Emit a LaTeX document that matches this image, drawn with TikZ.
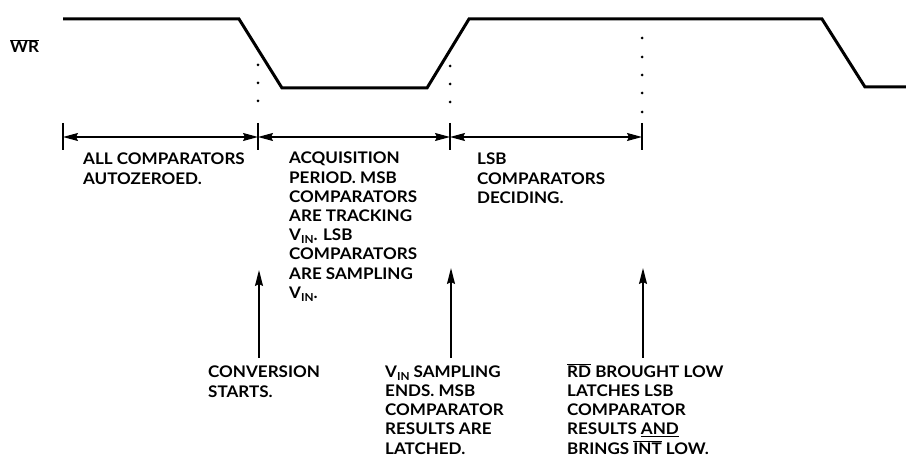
\documentclass[tikz,border=0pt]{standalone}
\usepackage{fontspec}
\setmainfont{Lato}[FakeStretch=1.065]
\usetikzlibrary{arrows.meta}
\newcommand\ovl[1]{$\overline{\hbox{#1}}$}
\newcommand\vin{V\raisebox{-3pt}{\fontsize{11}{11}\selectfont IN}}
\begin{document}
\begin{tikzpicture}[x=1pt,y=-1pt,
  lbl/.style={anchor=base west,inner sep=0pt,align=left,font=\fontsize{16}{19.2}\selectfont\bfseries},
  wave/.style={line width=3pt},
  dim/.style={line width=1.2pt,{Stealth[length=15pt,width=8pt,inset=2pt]}-{Stealth[length=15pt,width=8pt,inset=2pt]}},
  tickline/.style={line width=1.5pt},
  uparrow/.style={line width=1.5pt,-{Stealth[length=16pt,width=8pt,inset=2pt]}},
  dotmark/.style={fill,circle,inner sep=0pt,minimum size=3pt}]
\useasboundingbox (0,0) rectangle (906,457);
% waveform
\coordinate (w0) at (63,19);
\coordinate (w1) at (239,19);
\coordinate (w2) at (282,88);
\coordinate (w3) at (427,88);
\coordinate (w4) at (469,19);
\coordinate (w5) at (822,19);
\coordinate (w6) at (865,87);
\coordinate (w7) at (906,87);
\draw[wave] (w0) -- (w1) -- (w2) -- (w3) -- (w4) -- (w5) -- (w6) -- (w7);
\node[lbl] (wr) at (10,53) {\ovl{WR}};
% dots
\foreach \y [count=\i] in {65,83,101} \node[dotmark] (da\i) at (258,\y) {};
\foreach \y [count=\i] in {66,84,102} \node[dotmark] (db\i) at (450,\y) {};
\foreach \y [count=\i] in {38,57,75,93,112} \node[dotmark] (dc\i) at (642,\y) {};
% dimension ticks
\foreach \x [count=\i] in {63,258,450,642} {
  \coordinate (t\i) at (\x,137);
  \draw[tickline] (\x,123) -- (\x,150);
}
\draw[dim] (t1) -- (t2);
\draw[dim] (t2) -- (t3);
\draw[dim] (t3) -- (t4);
% top labels (anchor = baseline of last line)
\node[lbl] (p1) at (83,184.2) {ALL COMPARATORS\\AUTOZEROED.};
\node[lbl] (p2) at (289,298.4) {ACQUISITION\\PERIOD. MSB\\COMPARATORS\\ARE TRACKING\\\vin. LSB\\COMPARATORS\\ARE SAMPLING\\\vin.};
\node[lbl] (p3) at (477,203.4) {LSB\\COMPARATORS\\DECIDING.};
% bottom labels
\node[lbl] (e1) at (208,397) {CONVERSION\\STARTS.};
\node[lbl] (e2) at (385,454) {\vin\ SAMPLING\\ENDS. MSB\\COMPARATOR\\RESULTS ARE\\LATCHED.};
\node[lbl] (e3) at (567,454) {\ovl{RD} BROUGHT LOW\\LATCHES LSB\\COMPARATOR\\RESULTS \underline{AND}\\BRINGS \ovl{INT} LOW.};
% event arrows
\coordinate (a1s) at (259,358); \coordinate (a1e) at (259,270);
\coordinate (a2s) at (451,358); \coordinate (a2e) at (451,268);
\coordinate (a3s) at (643,358); \coordinate (a3e) at (643,268);
\draw[uparrow] (a1s) -- (a1e);
\draw[uparrow] (a2s) -- (a2e);
\draw[uparrow] (a3s) -- (a3e);
\end{tikzpicture}
\end{document}
